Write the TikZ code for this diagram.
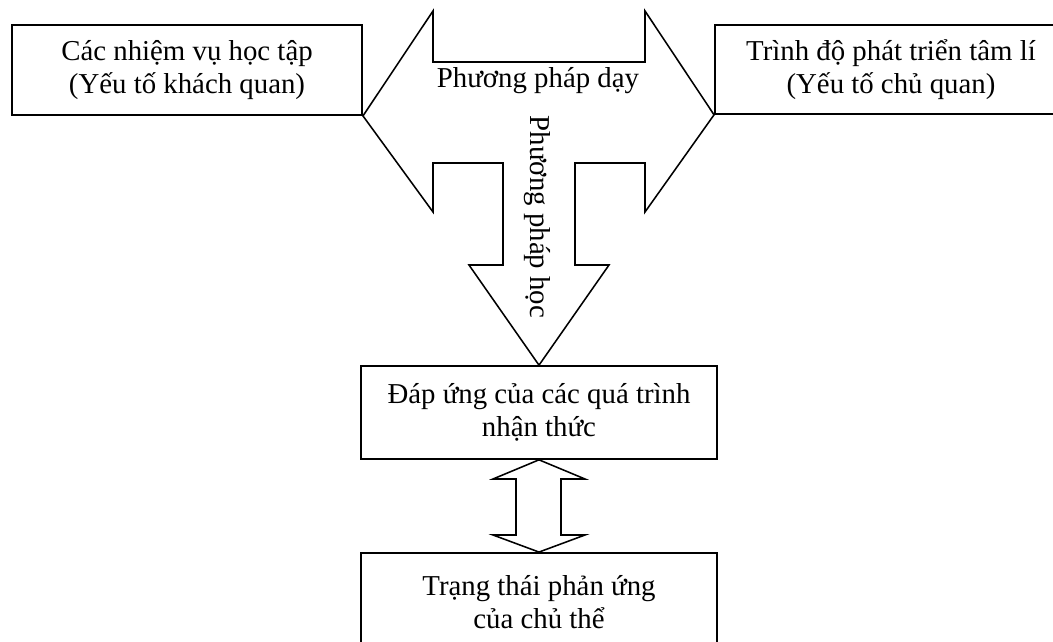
\documentclass[tikz,border=0pt]{standalone}
\usepackage{fontspec}
\setmainfont{Liberation Serif}
\tikzset{
	box/.style={draw,line width=1.3pt,align=center,inner sep=0pt,font=\fontsize{20.5}{23.5}\selectfont},
	bigarrow/.style={draw,line width=1.1pt,line join=miter},
	label/.style={font=\fontsize{20.5}{23.5}\selectfont,inner sep=0pt}
}
\begin{document}
\begin{tikzpicture}[x=0.025cm,y=-0.025cm]
			\clip (0,0) rectangle (1053,642);
			% the four boxes
			\node[box,minimum width=8.75cm,minimum height=2.25cm] (Tasks) at (187,70) {Các nhiệm vụ học tập\\(Yếu tố khách quan)};
			\node[box,minimum width=8.8cm,minimum height=2.22cm] (Level) at (891,69.5) {Trình độ phát triển tâm lí\\(Yếu tố chủ quan)};
			\node[box,minimum width=8.9cm,minimum height=2.32cm] (Response) at (539,412.5) {Đáp ứng của các quá trình\\nhận thức};
			\node[box,minimum width=8.9cm,minimum height=2.45cm] (State) at (539,602) {Trạng thái phản ứng\\của chủ thể};
			
			% teaching / learning arrow
			\draw[bigarrow] (Tasks.south east) -- (433,11) -- (433,62) -- (645,62) -- (645,11)
				-- (Level.south west) -- (645,212) -- (645,163) -- (575,163) -- (575,265)
				-- (609,265) -- (Response.north) -- (469,265) -- (503,265) -- (503,163)
				-- (433,163) -- (433,212) -- cycle;
			\node[label] (Teach) at (538,81) {Phương pháp dạy};
			\node[label,rotate=-90] (Learn) at (537,217) {Phương pháp học};
			
			% two-way arrow between the lower boxes
			\draw[bigarrow] (Response.south) -- (585,479) -- (561,479) -- (561,535) -- (585,535)
				-- (State.north) -- (493,535) -- (516,535) -- (516,479) -- (493,479) -- cycle;
			
\end{tikzpicture}
\end{document}
